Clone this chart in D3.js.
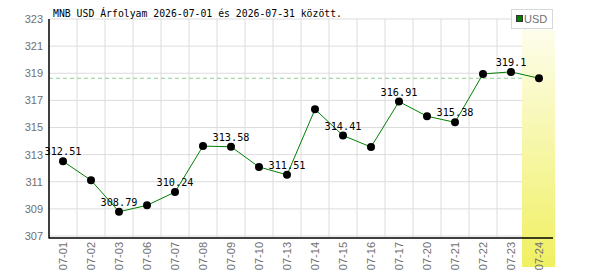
<!DOCTYPE html>
<html>
<head>
<meta charset="utf-8">
<script src="https://cdn.jsdelivr.net/npm/d3@7"></script>
<style>
  body { margin: 0; background: #fff; }
  .ticklbl { font-family: "Liberation Sans", Arial, sans-serif; font-size: 11px; fill: #707070; }
  .mono { font-family: "DejaVu Sans Mono", monospace; font-size: 10.2px; fill: #000; }
</style>
</head>
<body>
<div id="chart"></div>
<script>
// data
var dates = ["07-01","07-02","07-03","07-06","07-07","07-08","07-09","07-10","07-13",
             "07-14","07-15","07-16","07-17","07-20","07-21","07-22","07-23","07-24"];
var usd = [312.51, 311.11, 308.79, 309.26, 310.24, 313.63, 313.58, 312.09, 311.51,
           316.34, 314.41, 313.56, 316.91, 315.83, 315.38, 318.95, 319.1, 318.63];
var yTicks = [307, 309, 311, 313, 315, 317, 319, 321, 323];
var titleText = "MNB USD Árfolyam 2026-07-01 és 2026-07-31 között.";
var seriesName = "USD";

var params = { width: 600, height: 270, left: 49, right: 553, top: 19, bottom: 236 };

var svg = d3.select("#chart").append("svg")
    .attr("width", params.width)
    .attr("height", params.height);

var x = d3.scaleBand().domain(dates).range([params.left, params.right]);
var y = d3.scaleLinear().domain([307, 323]).range([params.bottom, params.top]);

function cx(d) { return x(d) + x.bandwidth() / 2; }

// gradient for the "today" column
var grad = svg.append("defs").append("linearGradient")
    .attr("id", "hl").attr("x1", 0).attr("y1", 0).attr("x2", 0).attr("y2", 1);
grad.append("stop").attr("offset", "0%").attr("stop-color", "#fdfdec");
grad.append("stop").attr("offset", "100%").attr("stop-color", "#f0f062");

// horizontal grid
svg.append("g").selectAll("line").data(yTicks).join("line")
    .attr("x1", params.left).attr("x2", params.right)
    .attr("y1", d => y(d)).attr("y2", d => y(d))
    .attr("stroke", "#dcdcdc").attr("stroke-width", 1);

// vertical grid at band boundaries
svg.append("g").selectAll("line").data(dates.slice(1)).join("line")
    .attr("x1", d => x(d)).attr("x2", d => x(d))
    .attr("y1", y(323)).attr("y2", params.bottom + 2)
    .attr("stroke", "#dcdcdc").attr("stroke-width", 1);

// highlight last day
var last = dates[dates.length - 1];
svg.append("rect")
    .attr("x", x(last) - 3).attr("y", 30)
    .attr("width", x.bandwidth() + 5).attr("height", 237)
    .attr("fill", "url(#hl)");

// dashed line at last value
svg.append("line")
    .attr("x1", params.left).attr("x2", x(last) - 3)
    .attr("y1", y(usd[usd.length - 1])).attr("y2", y(usd[usd.length - 1]))
    .attr("stroke", "#8ed08e").attr("stroke-dasharray", "4,3");

// axes lines
svg.append("line")
    .attr("x1", params.left).attr("x2", params.left)
    .attr("y1", y(323)).attr("y2", params.bottom + 2.5)
    .attr("stroke", "#000").attr("stroke-width", 1.5);
svg.append("line")
    .attr("x1", params.left).attr("x2", params.right)
    .attr("y1", params.bottom + 2).attr("y2", params.bottom + 2)
    .attr("stroke", "#000").attr("stroke-width", 1.5);

// y tick labels
svg.append("g").selectAll("text").data(yTicks).join("text")
    .attr("class", "ticklbl")
    .attr("x", params.left - 6).attr("y", d => y(d))
    .attr("dy", "0.36em")
    .attr("text-anchor", "end")
    .text(d => d);

// x tick labels, rotated
svg.append("g").selectAll("text").data(dates).join("text")
    .attr("class", "ticklbl")
    .attr("transform", d => "translate(" + cx(d) + "," + (params.bottom + 6) + ") rotate(-90)")
    .attr("dy", "0.36em")
    .attr("text-anchor", "end")
    .text(d => d);

// series line
var line = d3.line().x((d, i) => cx(dates[i])).y(d => y(d));
svg.append("path")
    .datum(usd)
    .attr("d", line)
    .attr("fill", "none")
    .attr("stroke", "#008000")
    .attr("stroke-width", 1);

svg.append("g").selectAll("circle").data(usd).join("circle")
    .attr("cx", (d, i) => cx(dates[i]))
    .attr("cy", d => y(d))
    .attr("r", 4)
    .attr("fill", "#000");

// value labels on every other point
svg.append("g").selectAll("text").data(usd.map((v, i) => [i, v]).filter(d => d[0] % 2 === 0 && d[0] < usd.length - 1))
    .join("text")
    .attr("class", "mono")
    .attr("x", d => cx(dates[d[0]]))
    .attr("y", d => y(d[1]) - 6)
    .attr("text-anchor", "middle")
    .text(d => d[1]);

// title
svg.append("text")
    .attr("class", "mono")
    .style("font-size", "9.8px")
    .attr("x", 53).attr("y", 17)
    .text(titleText);

// legend
var lg = svg.append("g");
lg.append("rect")
    .attr("x", 511.5).attr("y", 9.5).attr("width", 41).attr("height", 19)
    .attr("fill", "#fff").attr("stroke", "#d8d8d8");
lg.append("rect")
    .attr("x", 516.5).attr("y", 15.5).attr("width", 6).attr("height", 6)
    .attr("fill", "#008000").attr("stroke", "#333");
lg.append("text")
    .attr("class", "ticklbl")
    .attr("x", 524).attr("y", 19).attr("dy", "0.36em")
    .attr("fill", "#555")
    .text(seriesName);
</script>
</body>
</html>
